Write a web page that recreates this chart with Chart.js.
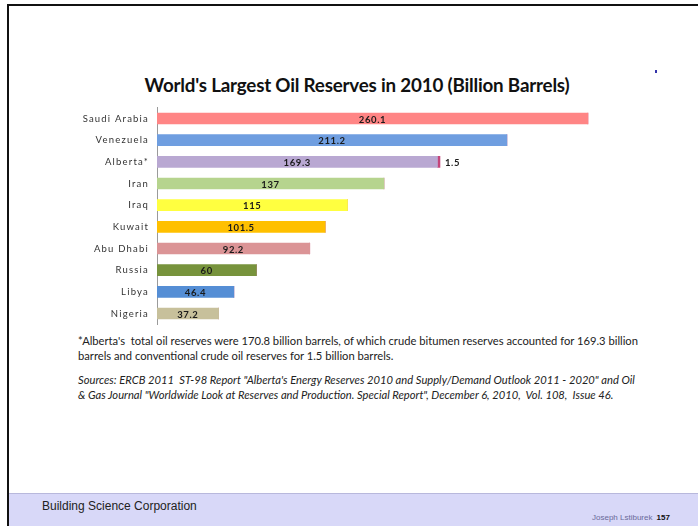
<!DOCTYPE html>
<html>
<head>
<meta charset="utf-8">
<script src="https://cdn.jsdelivr.net/npm/chart.js@4"></script>
<style>
  body { margin: 0; width: 698px; height: 526px; background: #fff; position: relative; overflow: hidden; font-family: Lato, "Open Sans", sans-serif; }
  .frameTop { position: absolute; left: 7px; top: 4px; width: 691px; height: 2px; background: #111; }
  .frameLeft { position: absolute; left: 7px; top: 4px; width: 2px; height: 522px; background: #111; }
  h1 { position: absolute; left: 0; width: 714px; top: 73px; margin: 0; text-align: center; font-size: 18.8px; font-weight: bold; color: #111; letter-spacing: -0.2px; }
  #wrap { position: absolute; left: 60px; top: 102px; width: 594px; height: 228px; }
  .note { position: absolute; left: 78px; width: 566px; font-size: 11.2px; line-height: 15px; color: #222; }
  .dot { position: absolute; left: 655px; top: 70px; width: 2px; height: 3px; background: #3333aa; }
  .footer { position: absolute; left: 9px; top: 493px; width: 689px; height: 33px; background: #d8d8f8; border-top: 1px solid #b8b8dc; }
  .bsc { position: absolute; left: 42px; top: 499px; font-family: "Liberation Sans", Arial, sans-serif; font-size: 12px; color: #222; }
  .author { position: absolute; left: 592px; top: 513px; font-family: "Liberation Sans", Arial, sans-serif; font-size: 8px; color: #6a6a9a; }
  .author b { color: #111; margin-left: 4px; }
</style>
</head>
<body>
<div class="frameTop"></div>
<div class="frameLeft"></div>
<div class="dot"></div>
<h1>World's Largest Oil Reserves in 2010 (Billion Barrels)</h1>
<div id="wrap"><canvas id="oilChart"></canvas></div>
<div class="note" style="top:333px">*Alberta's &nbsp;total oil reserves were 170.8 billion barrels, of which crude bitumen reserves accounted for 169.3 billion barrels and conventional crude oil reserves for 1.5 billion barrels.</div>
<div class="note" style="top:372px; font-style: italic;">Sources: ERCB 2011 &nbsp;ST-98 Report "Alberta's Energy Reserves 2010 and Supply/Demand Outlook 2011 - 2020" and Oil &amp; Gas Journal "Worldwide Look at Reserves and Production. Special Report", December 6, 2010, &nbsp;Vol. 108, &nbsp;Issue 46.</div>
<div class="footer"></div>
<div class="bsc">Building Science Corporation</div>
<div class="author">Joseph Lstiburek<b>157</b></div>
<script>
// chart data
const countries = ['Saudi Arabia', 'Venezuela', 'Alberta*', 'Iran', 'Iraq', 'Kuwait', 'Abu Dhabi', 'Russia', 'Libya', 'Nigeria'];
const reserves = [260.1, 211.2, 169.3, 137, 115, 101.5, 92.2, 60, 46.4, 37.2];
const conventional = [0, 0, 1.5, 0, 0, 0, 0, 0, 0, 0];

const barColors = ['#ff8585', '#6f9ee0', '#b9a8d2', '#b6d48e', '#ffff40', '#ffc000', '#db9496', '#77933c', '#558ed5', '#c7c09b'];

// spread the axis labels a bit like the original
const spacing = {
  id: 'spacing',
  beforeDraw(chart) { chart.ctx.letterSpacing = '1.2px'; },
  afterDraw(chart) { chart.ctx.letterSpacing = '0px'; }
};

// draws the value labels on the bars
const valueLabels = {
  id: 'valueLabels',
  afterDatasetsDraw(chart) {
    const ctx = chart.ctx;
    ctx.save();
    ctx.letterSpacing = '0.6px';
    ctx.font = 'bold 9.5px Lato, sans-serif';
    ctx.fillStyle = '#1a1a1a';
    ctx.textBaseline = 'middle';
    chart.getDatasetMeta(0).data.forEach((bar, i) => {
      ctx.textAlign = 'center';
      ctx.fillText(String(reserves[i]), (bar.x + bar.base) / 2, bar.y + 1);
    });
    chart.getDatasetMeta(1).data.forEach((bar, i) => {
      if (!conventional[i]) return;
      ctx.textAlign = 'left';
      ctx.fillText(String(conventional[i]), bar.x + 5, bar.y + 1);
    });
    ctx.restore();
  }
};

const ctx = document.getElementById('oilChart').getContext('2d');
const oilChart = new Chart(ctx, {
  type: 'bar',
  data: {
    labels: countries,
    datasets: [{
      data: reserves,
      backgroundColor: barColors,
      barThickness: 11
    }, {
      data: conventional,
      backgroundColor: '#c4457a',
      barThickness: 11
    }]
  },
  options: {
    indexAxis: 'y',
    responsive: true,
    maintainAspectRatio: false,
    animation: false,
    layout: { padding: 0 },
    plugins: { legend: { display: false }, tooltip: { enabled: false } },
    scales: {
      x: { stacked: true, min: 0, max: 300, display: false },
      y: {
        stacked: true,
        grid: { display: false },
        border: { display: true, color: '#9a9a9a', width: 1 },
        ticks: { color: '#333', padding: 0, font: { size: 9.5, family: 'Lato, sans-serif' } },
        afterFit(scale) { scale.width = 97; }
      }
    }
  },
  plugins: [spacing, valueLabels]
});
</script>
</body>
</html>
